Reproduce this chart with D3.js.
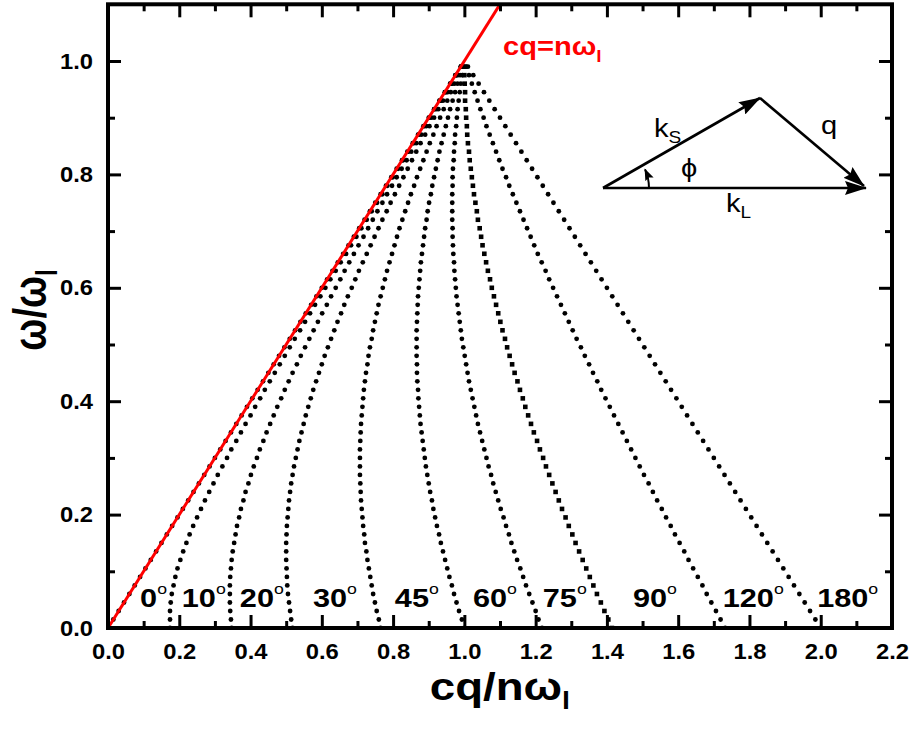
<!DOCTYPE html>
<html>
<head>
<meta charset="utf-8">
<script src="https://cdn.jsdelivr.net/npm/d3@7"></script>
<style>
  body { margin: 0; background: #fff; }
  svg text { font-family: "Liberation Sans", Arial, sans-serif; }
</style>
</head>
<body>
<svg id="chart" width="914" height="733"></svg>
<script>
// omega / omega_l, same sampling for every curve
const omega = [0,0.015,0.03,0.045,0.06,0.075,0.09,0.105,0.12,0.135,0.15,0.165,0.18,0.195,0.21,0.225,0.24,0.255,0.27,0.285,0.3,0.315,0.33,0.345,0.36,0.375,0.39,0.405,0.42,0.435,0.45,0.465,0.48,0.495,0.51,0.525,0.54,0.555,0.57,0.585,0.6,0.615,0.63,0.645,0.66,0.675,0.69,0.705,0.72,0.735,0.75,0.765,0.78,0.795,0.81,0.825,0.84,0.855,0.87,0.885,0.9,0.915,0.93,0.945,0.96,0.975,0.99]

// cq / n omega_l for each scattering angle
const q0 = [0,0.015,0.03,0.045,0.06,0.075,0.09,0.105,0.12,0.135,0.15,0.165,0.18,0.195,0.21,0.225,0.24,0.255,0.27,0.285,0.3,0.315,0.33,0.345,0.36,0.375,0.39,0.405,0.42,0.435,0.45,0.465,0.48,0.495,0.51,0.525,0.54,0.555,0.57,0.585,0.6,0.615,0.63,0.645,0.66,0.675,0.69,0.705,0.72,0.735,0.75,0.765,0.78,0.795,0.81,0.825,0.84,0.855,0.87,0.885,0.9,0.915,0.93,0.945,0.96,0.975,0.99]
const q10 = [0.174,0.174,0.174,0.176,0.179,0.184,0.189,0.195,0.203,0.211,0.220,0.229,0.239,0.250,0.261,0.272,0.284,0.296,0.308,0.321,0.334,0.346,0.360,0.373,0.386,0.400,0.413,0.427,0.440,0.454,0.468,0.482,0.496,0.510,0.524,0.539,0.553,0.567,0.581,0.596,0.610,0.624,0.639,0.653,0.668,0.682,0.697,0.711,0.726,0.740,0.755,0.770,0.784,0.799,0.814,0.828,0.843,0.858,0.872,0.887,0.902,0.916,0.931,0.946,0.961,0.975,0.990]
const q20 = [0.347,0.345,0.343,0.342,0.342,0.342,0.343,0.345,0.347,0.350,0.354,0.358,0.362,0.368,0.373,0.380,0.386,0.394,0.401,0.409,0.418,0.426,0.436,0.445,0.455,0.465,0.475,0.486,0.496,0.507,0.518,0.530,0.541,0.553,0.565,0.577,0.589,0.601,0.614,0.626,0.639,0.652,0.664,0.677,0.690,0.703,0.717,0.730,0.743,0.756,0.770,0.783,0.797,0.810,0.824,0.838,0.851,0.865,0.879,0.893,0.907,0.921,0.935,0.949,0.963,0.977,0.991]
const q30 = [0.518,0.514,0.511,0.508,0.505,0.503,0.502,0.501,0.500,0.500,0.500,0.501,0.502,0.504,0.506,0.508,0.511,0.514,0.518,0.522,0.527,0.532,0.537,0.543,0.549,0.555,0.562,0.569,0.576,0.584,0.592,0.600,0.608,0.617,0.626,0.635,0.644,0.654,0.663,0.673,0.684,0.694,0.704,0.715,0.726,0.737,0.748,0.759,0.770,0.782,0.793,0.805,0.817,0.829,0.841,0.853,0.865,0.877,0.890,0.902,0.915,0.927,0.940,0.953,0.966,0.978,0.991]
const q45 = [0.765,0.760,0.754,0.749,0.744,0.740,0.736,0.732,0.728,0.725,0.721,0.719,0.716,0.714,0.712,0.710,0.709,0.708,0.707,0.707,0.707,0.707,0.708,0.709,0.710,0.712,0.714,0.716,0.718,0.721,0.724,0.728,0.731,0.735,0.740,0.744,0.749,0.754,0.759,0.765,0.771,0.777,0.783,0.790,0.797,0.804,0.811,0.818,0.826,0.834,0.842,0.850,0.859,0.867,0.876,0.885,0.894,0.903,0.913,0.922,0.932,0.942,0.952,0.962,0.972,0.982,0.993]
const q60 = [1.000,0.993,0.985,0.978,0.971,0.965,0.958,0.952,0.946,0.940,0.934,0.929,0.923,0.918,0.913,0.909,0.904,0.900,0.896,0.892,0.889,0.886,0.883,0.880,0.877,0.875,0.873,0.871,0.870,0.868,0.867,0.867,0.866,0.866,0.866,0.866,0.867,0.868,0.869,0.870,0.872,0.874,0.876,0.878,0.881,0.884,0.887,0.890,0.894,0.897,0.901,0.906,0.910,0.915,0.920,0.925,0.930,0.936,0.942,0.948,0.954,0.960,0.967,0.974,0.981,0.988,0.995]
const q75 = [1.218,1.208,1.200,1.191,1.182,1.173,1.165,1.157,1.148,1.140,1.132,1.125,1.117,1.110,1.102,1.095,1.088,1.081,1.075,1.068,1.062,1.056,1.050,1.044,1.038,1.033,1.028,1.023,1.018,1.013,1.009,1.005,1.001,0.997,0.993,0.990,0.987,0.984,0.981,0.978,0.976,0.974,0.972,0.971,0.969,0.968,0.967,0.967,0.966,0.966,0.966,0.966,0.967,0.967,0.968,0.970,0.971,0.973,0.974,0.977,0.979,0.981,0.984,0.987,0.990,0.994,0.997]
const q90 = [1.414,1.404,1.393,1.383,1.372,1.362,1.352,1.342,1.332,1.322,1.312,1.303,1.293,1.284,1.274,1.265,1.256,1.247,1.238,1.229,1.221,1.212,1.204,1.195,1.187,1.179,1.171,1.164,1.156,1.149,1.141,1.134,1.127,1.120,1.114,1.107,1.101,1.095,1.089,1.083,1.077,1.072,1.066,1.061,1.056,1.051,1.047,1.043,1.038,1.035,1.031,1.027,1.024,1.021,1.018,1.015,1.013,1.010,1.008,1.007,1.005,1.004,1.002,1.002,1.001,1.000,1.000]
const q120 = [1.732,1.719,1.706,1.693,1.680,1.668,1.655,1.642,1.629,1.617,1.604,1.591,1.579,1.566,1.554,1.541,1.529,1.517,1.504,1.492,1.480,1.468,1.456,1.444,1.432,1.420,1.408,1.396,1.384,1.373,1.361,1.350,1.338,1.327,1.315,1.304,1.293,1.282,1.271,1.260,1.249,1.238,1.228,1.217,1.206,1.196,1.186,1.176,1.166,1.156,1.146,1.136,1.126,1.117,1.107,1.098,1.089,1.080,1.071,1.062,1.054,1.045,1.037,1.029,1.021,1.013,1.005]
const q180 = [2.000,1.985,1.970,1.955,1.940,1.925,1.910,1.895,1.880,1.865,1.850,1.835,1.820,1.805,1.790,1.775,1.760,1.745,1.730,1.715,1.700,1.685,1.670,1.655,1.640,1.625,1.610,1.595,1.580,1.565,1.550,1.535,1.520,1.505,1.490,1.475,1.460,1.445,1.430,1.415,1.400,1.385,1.370,1.355,1.340,1.325,1.310,1.295,1.280,1.265,1.250,1.235,1.220,1.205,1.190,1.175,1.160,1.145,1.130,1.115,1.100,1.085,1.070,1.055,1.040,1.025,1.010]

const angles = ['0', '10', '20', '30', '45', '60', '75', '90', '120', '180']
const seriesQ = [q0, q10, q20, q30, q45, q60, q75, q90, q120, q180]

// light line cq = n omega_l
const lightQ = [0, 1.2]
const lightW = [0, 1.2]

const xTicks = [0, 0.2, 0.4, 0.6, 0.8, 1.0, 1.2, 1.4, 1.6, 1.8, 2.0, 2.2]
const yTicks = [0, 0.2, 0.4, 0.6, 0.8, 1.0]

// ---- layout ----
const plot = { left: 108, right: 892, top: 4.3, bottom: 628 }
const labelX = [0.09, 0.207, 0.37, 0.575, 0.805, 1.024, 1.22, 1.473, 1.725, 1.99] // angle label positions (data units)
const labelBaseline = 607
const stretch = 1.12 // the original lettering is a little wider than Arial

const svg = d3.select('#chart')

const x = d3.scaleLinear().domain([0, 2.2]).range([plot.left, plot.right])
const y = d3.scaleLinear().domain([0, 1.1]).range([plot.bottom, plot.top])

const defs = svg.append('defs')
defs.append('clipPath')
  .attr('id', 'clip')
  .append('rect')
  .attr('x', plot.left)
  .attr('y', plot.top)
  .attr('width', plot.right - plot.left)
  .attr('height', plot.bottom - plot.top)

const marks = svg.append('g').attr('clip-path', 'url(#clip)')

// dotted curves
seriesQ.forEach((qs, i) => {
  const pts = omega.map((w, j) => ({ q: qs[j], w }))
  const g = marks.append('g').attr('class', 'curve-' + angles[i])
  if (angles[i] === '90') {
    g.selectAll('rect')
      .data(pts)
      .enter()
      .append('rect')
      .attr('x', d => x(d.q) - 2.3)
      .attr('y', d => y(d.w) - 2.3)
      .attr('width', 4.6)
      .attr('height', 4.6)
      .attr('fill', '#000')
  } else {
    g.selectAll('circle')
      .data(pts)
      .enter()
      .append('circle')
      .attr('cx', d => x(d.q))
      .attr('cy', d => y(d.w))
      .attr('r', 2.4)
      .attr('fill', '#000')
  }
})

// red line
marks.append('path')
  .datum(lightQ.map((q, i) => [q, lightW[i]]))
  .attr('d', d3.line().x(d => x(d[0])).y(d => y(d[1])))
  .attr('stroke', '#ff0000')
  .attr('stroke-width', 3)
  .attr('fill', 'none')

// axes: major + minor ticks on all four sides, pointing inward
const minorX = d3.range(1, 22, 2).map(v => v / 10)
const minorY = d3.range(1, 11, 2).map(v => v / 10)
const fmt = d3.format('.1f')

function styleAxis(sel) {
  sel.select('.domain').remove()
  sel.selectAll('line').attr('stroke', '#000').attr('stroke-width', 3)
  sel.selectAll('text')
    .attr('font-size', 22)
    .attr('font-weight', 'bold')
    .attr('fill', '#000')
    .style('font-family', '"Liberation Sans", Arial, sans-serif')
}

const addAxis = (gen, tr) => svg.append('g').attr('transform', tr).call(gen).call(styleAxis)

const xAxis = addAxis(d3.axisBottom(x).tickValues(xTicks).tickSize(-13).tickPadding(15).tickFormat(fmt), `translate(0,${plot.bottom})`)
addAxis(d3.axisBottom(x).tickValues(minorX).tickSize(-7).tickFormat(''), `translate(0,${plot.bottom})`)
addAxis(d3.axisTop(x).tickValues(xTicks).tickSize(-13).tickFormat(''), `translate(0,${plot.top})`)
addAxis(d3.axisTop(x).tickValues(minorX).tickSize(-7).tickFormat(''), `translate(0,${plot.top})`)
const yAxis = addAxis(d3.axisLeft(y).tickValues(yTicks).tickSize(-13).tickPadding(15).tickFormat(fmt), `translate(${plot.left},0)`)
addAxis(d3.axisLeft(y).tickValues(minorY).tickSize(-7).tickFormat(''), `translate(${plot.left},0)`)
addAxis(d3.axisRight(y).tickValues(yTicks).tickSize(-13).tickFormat(''), `translate(${plot.right},0)`)
addAxis(d3.axisRight(y).tickValues(minorY).tickSize(-7).tickFormat(''), `translate(${plot.right},0)`)

// widen tick labels around their anchor
xAxis.selectAll('.tick text').attr('transform', 'scale(1.08,1)')
yAxis.selectAll('.tick text').attr('transform', 'translate(-15,0) scale(1.08,1) translate(15,0)')

// frame
svg.append('rect')
  .attr('x', plot.left)
  .attr('y', plot.top)
  .attr('width', plot.right - plot.left)
  .attr('height', plot.bottom - plot.top)
  .attr('fill', 'none')
  .attr('stroke', '#000')
  .attr('stroke-width', 4)

// angle labels
angles.forEach((a, i) => {
  const t = svg.append('text')
    .attr('transform', `translate(${x(labelX[i])},${labelBaseline}) scale(1.18,1)`)
    .attr('font-size', 26)
    .attr('font-weight', 'bold')
  t.append('tspan').text(a)
  t.append('tspan').text('o').attr('font-size', 15).attr('font-weight', 'normal').attr('dy', -13)
})

// red label
const red = svg.append('text')
  .attr('transform', `translate(503,55) scale(${stretch},1)`)
  .attr('fill', '#ff0000')
  .attr('font-size', 26)
  .attr('font-weight', 'bold')
red.append('tspan').text('cq=nω')
red.append('tspan').text('l').attr('font-size', 17).attr('dy', 7)

// axis titles
const xt = svg.append('text')
  .attr('transform', `translate(500,700) scale(1.2,1)`)
  .attr('text-anchor', 'middle')
  .attr('font-size', 38)
  .attr('font-weight', 'bold')
xt.append('tspan').text('cq/nω')
xt.append('tspan').text('l').attr('font-size', 24).attr('dy', 9)

const yt = svg.append('text')
  .attr('transform', 'translate(46,310) rotate(-90) scale(1,1.2)')
  .attr('text-anchor', 'middle')
  .attr('font-size', 38)
  .attr('font-weight', 'bold')
yt.append('tspan').text('ω/ω')
yt.append('tspan').text('l').attr('font-size', 24).attr('dy', 9)

// inset: wave-vector triangle
defs.append('marker')
  .attr('id', 'head')
  .attr('markerUnits', 'userSpaceOnUse')
  .attr('markerWidth', 22).attr('markerHeight', 14)
  .attr('refX', 21).attr('refY', 7)
  .attr('orient', 'auto')
  .append('path').attr('d', 'M0,0 L22,7 L0,14 L3,7 Z').attr('fill', '#000')
defs.append('marker')
  .attr('id', 'small')
  .attr('markerUnits', 'userSpaceOnUse')
  .attr('markerWidth', 12).attr('markerHeight', 9)
  .attr('refX', 11).attr('refY', 4.5)
  .attr('orient', 'auto')
  .append('path').attr('d', 'M0,0 L12,4.5 L0,9 L2,4.5 Z').attr('fill', '#000')

const o = [603, 188], apex = [760, 98], tip = [866, 188]
const inset = svg.append('g').attr('stroke', '#000').attr('stroke-width', 2.6).attr('fill', 'none')
inset.append('line').attr('x1', o[0]).attr('y1', o[1]).attr('x2', apex[0]).attr('y2', apex[1]).attr('marker-end', 'url(#head)')
inset.append('line').attr('x1', apex[0]).attr('y1', apex[1]).attr('x2', tip[0] - 2).attr('y2', tip[1] - 2).attr('marker-end', 'url(#head)')
inset.append('line').attr('x1', o[0]).attr('y1', o[1]).attr('x2', tip[0]).attr('y2', tip[1]).attr('marker-end', 'url(#head)')
const r = 46, a1 = 24 * Math.PI / 180
inset.append('path')
  .attr('d', `M${o[0] + r},${o[1]} A${r},${r} 0 0 0 ${o[0] + r * Math.cos(a1)},${o[1] - r * Math.sin(a1)}`)
  .attr('stroke-width', 2)
  .attr('marker-end', 'url(#small)')

const lab = (xx, yy, main, sub) => {
  const t = svg.append('text').attr('transform', `translate(${xx},${yy}) scale(${stretch},1)`).attr('font-size', 26)
  t.append('tspan').text(main)
  if (sub) t.append('tspan').text(sub).attr('font-size', 17).attr('dy', 6)
}
lab(654, 137, 'k', 'S')
lab(821, 134, 'q')
lab(681, 177, 'ϕ')
lab(726, 212, 'k', 'L')
</script>
</body>
</html>
